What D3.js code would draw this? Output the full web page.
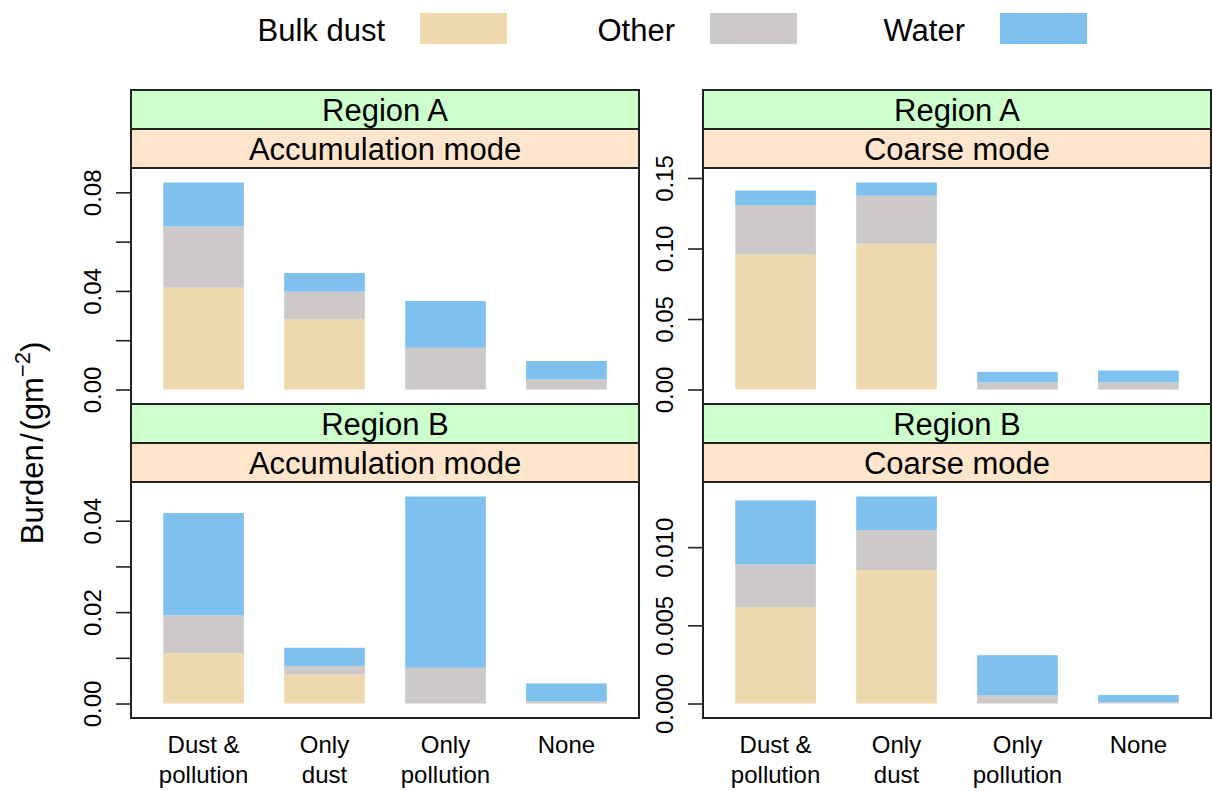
<!DOCTYPE html>
<html>
<head>
<meta charset="utf-8">
<script src="https://cdn.jsdelivr.net/npm/d3@7"></script>
<style>
  body { margin: 0; background: #fff; }
  svg { font-family: "Liberation Sans", Arial, sans-serif; }
</style>
</head>
<body>
<div id="chart"></div>
<script>
// categories and series
const categories = ["Dust & pollution", "Only dust", "Only pollution", "None"];
const categoryLines = [["Dust &", "pollution"], ["Only", "dust"], ["Only", "pollution"], ["None"]];
const components = ["Bulk dust", "Other", "Water"];
const componentColors = ["#EED8AE", "#CDC9C9", "#7EC0EE"];
const regions = ["Region A", "Region B"];
const modes = ["Accumulation mode", "Coarse mode"];

// Region A, accumulation mode
const accA_dust  = [0.0413, 0.0284, 0.0000, 0.0000];
const accA_other = [0.0249, 0.0113, 0.0169, 0.0041];
const accA_water = [0.0178, 0.0076, 0.0190, 0.0075];
// Region A, coarse mode
const crsA_dust  = [0.0956, 0.1034, 0.0000, 0.0000];
const crsA_other = [0.0352, 0.0340, 0.0050, 0.0050];
const crsA_water = [0.0103, 0.0094, 0.0075, 0.0085];
// Region B, accumulation mode
const accB_dust  = [0.0110, 0.0064, 0.0000, 0.0000];
const accB_other = [0.0083, 0.0018, 0.0078, 0.0005];
const accB_water = [0.0224, 0.0040, 0.0375, 0.0039];
// Region B, coarse mode
const crsB_dust  = [0.00616, 0.00854, 0.00000, 0.00000];
const crsB_other = [0.00272, 0.00255, 0.00051, 0.00009];
const crsB_water = [0.00411, 0.00215, 0.00258, 0.00045];

// y ticks and their labels ("" = unlabelled tick)
const accA_ticks = [0, 0.02, 0.04, 0.06, 0.08];
const accA_labels = ["0.00", "", "0.04", "", "0.08"];
const crsA_ticks = [0, 0.05, 0.10, 0.15];
const crsA_labels = ["0.00", "0.05", "0.10", "0.15"];
const accB_ticks = [0, 0.01, 0.02, 0.03, 0.04];
const accB_labels = ["0.00", "", "0.02", "", "0.04"];
const crsB_ticks = [0, 0.005, 0.010];
const crsB_labels = ["0.000", "0.005", "0.010"];

const panels = [
    { row: 0, col: 0, series: [accA_dust, accA_other, accA_water], ticks: accA_ticks, labels: accA_labels },
    { row: 0, col: 1, series: [crsA_dust, crsA_other, crsA_water], ticks: crsA_ticks, labels: crsA_labels },
    { row: 1, col: 0, series: [accB_dust, accB_other, accB_water], ticks: accB_ticks, labels: accB_labels },
    { row: 1, col: 1, series: [crsB_dust, crsB_other, crsB_water], ticks: crsB_ticks, labels: crsB_labels }
];

const width = 1213, height = 791;
const colLeft = [131, 703];
const panelW = 508;
const stripH = 39;
const rowTop = [90, 404];
const panelH = 236;

const svg = d3.select("#chart").append("svg")
    .attr("width", width)
    .attr("height", height);

// legend
const legend = svg.append("g");
components.forEach((c, i) => {
    const rx = 420 + i * 290;
    legend.append("rect")
        .attr("x", rx).attr("y", 13)
        .attr("width", 87).attr("height", 31)
        .attr("fill", componentColors[i]);
    legend.append("text")
        .attr("x", rx - 35).attr("y", 40.5)
        .attr("text-anchor", "end")
        .attr("font-size", 31)
        .text(c);
});

const x = d3.scaleBand()
    .domain(categories)
    .range([0, panelW])
    .paddingInner(1 / 3)
    .paddingOuter(0.8 / 3);

const stack = d3.stack().keys(components);

panels.forEach(p => {
    const left = colLeft[p.col];
    const stripTop = rowTop[p.row];
    const top = stripTop + 2 * stripH;

    const rows = categories.map((cat, i) => {
        const r = { cat: cat };
        components.forEach((c, k) => r[c] = p.series[k][i]);
        return r;
    });
    const stacked = stack(rows);
    const maxTotal = d3.max(stacked[stacked.length - 1], d => d[1]);

    const y = d3.scaleLinear()
        .domain([-0.07 * maxTotal, 1.07 * maxTotal])
        .range([panelH, 0]);

    const g = svg.append("g").attr("transform", `translate(${left},${top})`);

    // bars
    g.selectAll(".layer")
        .data(stacked)
        .enter().append("g")
        .attr("fill", (d, i) => componentColors[i])
        .selectAll("rect")
        .data(d => d)
        .enter().append("rect")
        .attr("x", d => x(d.data.cat))
        .attr("y", d => y(d[1]))
        .attr("width", x.bandwidth())
        .attr("height", d => Math.max(0, y(d[0]) - y(d[1])));

    // y axis
    const axis = g.append("g")
        .call(d3.axisLeft(y)
            .tickValues(p.ticks)
            .tickSize(15)
            .tickSizeOuter(0)
            .tickFormat((d, i) => p.labels[i]));
    axis.select(".domain").remove();
    axis.selectAll(".tick line").attr("stroke", "#222").attr("stroke-width", 1.6);
    axis.selectAll(".tick text")
        .attr("x", null).attr("dy", null)
        .attr("transform", "translate(-30,0) rotate(-90)")
        .attr("text-anchor", "middle")
        .attr("font-size", 24)
        .attr("font-family", "Liberation Sans, Arial, sans-serif")
        .attr("fill", "#000");

    // panel box
    g.append("rect")
        .attr("width", panelW).attr("height", panelH)
        .attr("fill", "none").attr("stroke", "#222").attr("stroke-width", 2);

    // strips: region (outer) and mode (inner)
    const stripData = [
        { label: regions[p.row], fill: "#CCFFCC" },
        { label: modes[p.col], fill: "#FFE5CC" }
    ];
    stripData.forEach((s, k) => {
        const sy = stripTop + k * stripH;
        svg.append("rect")
            .attr("x", left).attr("y", sy)
            .attr("width", panelW).attr("height", stripH)
            .attr("fill", s.fill).attr("stroke", "#222").attr("stroke-width", 2);
        svg.append("text")
            .attr("x", left + panelW / 2).attr("y", sy + stripH - 8.5)
            .attr("text-anchor", "middle")
            .attr("font-size", 31)
            .text(s.label);
    });

    // x labels on bottom row
    if (p.row === 1) {
        categories.forEach((cat, i) => {
            const t = svg.append("text")
                .attr("x", left + x(cat) + x.bandwidth() / 2)
                .attr("y", top + panelH + 35)
                .attr("text-anchor", "middle")
                .attr("font-size", 24);
            categoryLines[i].forEach((line, j) => {
                t.append("tspan")
                    .attr("x", left + x(cat) + x.bandwidth() / 2)
                    .attr("dy", j === 0 ? 0 : 30)
                    .text(line);
            });
        });
    }
});

// y axis title
const yTitle = svg.append("text")
    .attr("transform", `translate(43,${(rowTop[0] + 2 * stripH + rowTop[1] + 2 * stripH + panelH) / 2}) rotate(-90)`)
    .attr("text-anchor", "middle")
    .attr("font-size", 31);
yTitle.append("tspan").text("Burden\u200A/\u200A(gm");
yTitle.append("tspan").attr("font-size", 22).attr("dy", -13).text("\u22122");
yTitle.append("tspan").attr("dy", 13).text(")");
</script>
</body>
</html>
